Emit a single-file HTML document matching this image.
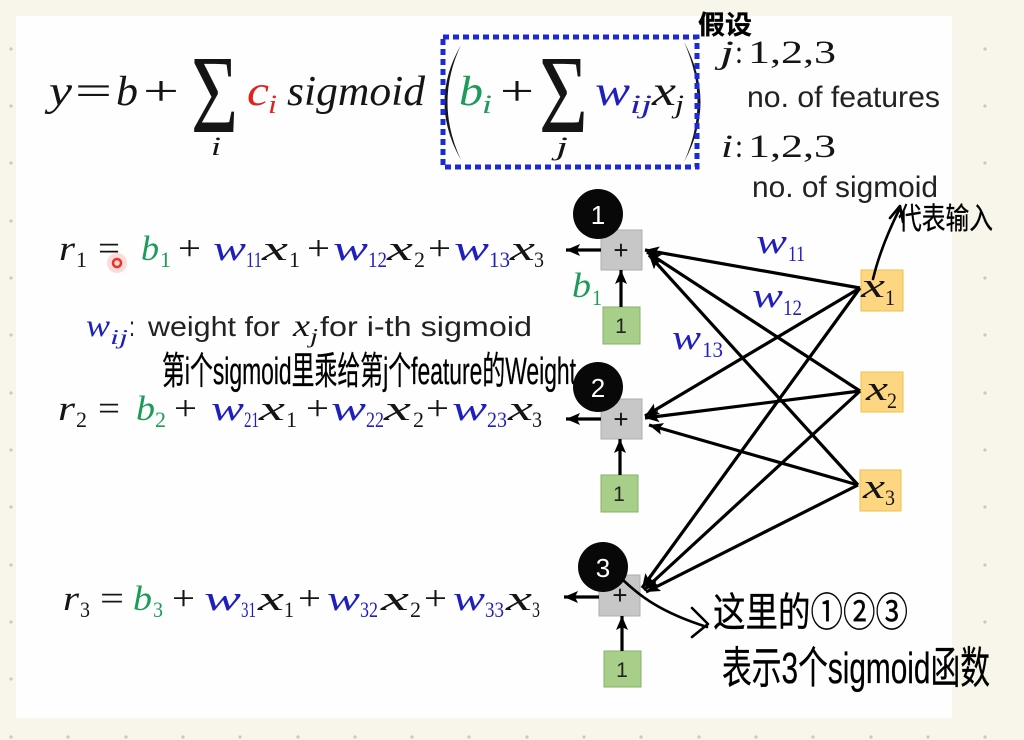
<!DOCTYPE html>
<html><head><meta charset="utf-8"><style>
html,body{margin:0;padding:0;background:#f8f6eb;}
svg{display:block;}
.m{font-family:"Liberation Serif",serif;font-style:italic;fill:#151515;}
.u{font-family:"Liberation Serif",serif;fill:#151515;}
.s{font-family:"Liberation Sans",sans-serif;fill:#222;}
.h{font-family:"Liberation Sans","Noto Sans CJK SC",sans-serif;fill:#000;stroke:#000;stroke-width:0.3;}
.g{fill:#1c9c58;}
.b{fill:#1f1fbd;}
.r{fill:#e3221c;}
</style></head><body>
<svg width="1024" height="740" viewBox="0 0 1024 740" xmlns="http://www.w3.org/2000/svg">
<defs>
<marker id="ah" markerUnits="userSpaceOnUse" markerWidth="16" markerHeight="14" refX="14" refY="6" orient="auto">
<path d="M0,0 L14,6 L0,12 L3,6 z" fill="#000"/>
</marker>
</defs>
<rect x="0" y="0" width="1024" height="740" fill="#f8f6eb"/>
<g fill="#cbc9bf">
<circle cx="11" cy="49" r="1.6"/><circle cx="11" cy="106" r="1.6"/><circle cx="11" cy="163" r="1.6"/><circle cx="11" cy="221" r="1.6"/><circle cx="11" cy="278" r="1.6"/><circle cx="11" cy="335" r="1.6"/><circle cx="11" cy="393" r="1.6"/><circle cx="11" cy="450" r="1.6"/><circle cx="11" cy="507" r="1.6"/><circle cx="11" cy="565" r="1.6"/><circle cx="11" cy="622" r="1.6"/><circle cx="11" cy="679" r="1.6"/><circle cx="11" cy="737" r="1.6"/>
<circle cx="985" cy="49" r="1.6"/><circle cx="985" cy="106" r="1.6"/><circle cx="985" cy="163" r="1.6"/><circle cx="985" cy="221" r="1.6"/><circle cx="985" cy="278" r="1.6"/><circle cx="985" cy="335" r="1.6"/><circle cx="985" cy="393" r="1.6"/><circle cx="985" cy="450" r="1.6"/><circle cx="985" cy="507" r="1.6"/><circle cx="985" cy="565" r="1.6"/><circle cx="985" cy="622" r="1.6"/><circle cx="985" cy="679" r="1.6"/><circle cx="985" cy="737" r="1.6"/>
<circle cx="68" cy="737" r="1.6"/><circle cx="126" cy="737" r="1.6"/><circle cx="183" cy="737" r="1.6"/><circle cx="240" cy="737" r="1.6"/><circle cx="298" cy="737" r="1.6"/><circle cx="355" cy="737" r="1.6"/><circle cx="412" cy="737" r="1.6"/><circle cx="469" cy="737" r="1.6"/><circle cx="527" cy="737" r="1.6"/><circle cx="584" cy="737" r="1.6"/><circle cx="641" cy="737" r="1.6"/><circle cx="699" cy="737" r="1.6"/><circle cx="756" cy="737" r="1.6"/><circle cx="813" cy="737" r="1.6"/><circle cx="871" cy="737" r="1.6"/><circle cx="928" cy="737" r="1.6"/>
</g>
<rect x="16" y="16" width="936" height="702" fill="#fefefe"/>

<!-- Main formula -->
<g font-size="42">
<text class="m" x="49" y="105" textLength="23" lengthAdjust="spacingAndGlyphs">y</text>
<text class="u" x="75" y="105" textLength="37" lengthAdjust="spacingAndGlyphs">=</text>
<text class="m" x="116" y="105" textLength="22" lengthAdjust="spacingAndGlyphs">b</text>
<text class="u" x="143" y="105" textLength="36" lengthAdjust="spacingAndGlyphs">+</text>
<text class="u" font-size="60" transform="translate(191,132) scale(1.35,1.86)">Σ</text>
<text class="m" x="211" y="155" font-size="26" textLength="10" lengthAdjust="spacingAndGlyphs">i</text>
<text class="m r" x="247" y="105" textLength="22" lengthAdjust="spacingAndGlyphs">c</text>
<text class="m r" x="268" y="113" font-size="26" textLength="9" lengthAdjust="spacingAndGlyphs">i</text>
<text class="m" x="287" y="105" textLength="138" lengthAdjust="spacingAndGlyphs">sigmoid</text>
<path d="M461,45 Q428,102 461,160 Q434,102 461,45 Z" fill="#151515"/>
<text class="m g" x="459" y="105" textLength="24" lengthAdjust="spacingAndGlyphs">b</text>
<text class="m g" x="482" y="113" font-size="26" textLength="10" lengthAdjust="spacingAndGlyphs">i</text>
<text class="u" x="500" y="105" textLength="34" lengthAdjust="spacingAndGlyphs">+</text>
<text class="u" font-size="60" transform="translate(539,132) scale(1.4,1.86)">Σ</text>
<text class="m" x="556" y="155" font-size="26" textLength="12" lengthAdjust="spacingAndGlyphs">j</text>
<text class="m b" x="595" y="105" textLength="35" lengthAdjust="spacingAndGlyphs">w</text>
<text class="m b" x="630" y="113" font-size="26" textLength="22" lengthAdjust="spacingAndGlyphs">ij</text>
<text class="m" x="652" y="105" textLength="24" lengthAdjust="spacingAndGlyphs">x</text>
<text class="m" x="675" y="113" font-size="26" textLength="9" lengthAdjust="spacingAndGlyphs">j</text>
<path d="M684,42 Q717,102 684,162 Q711,102 684,42 Z" fill="#151515"/>
</g>
<rect x="443" y="37" width="254" height="130" fill="none" stroke="#1a2ad8" stroke-width="5" stroke-dasharray="6 4"/>

<!-- right labels -->
<g font-size="33">
<text class="m" x="720" y="63" textLength="14" lengthAdjust="spacingAndGlyphs">j</text>
<text class="u" x="735" y="63" textLength="8" lengthAdjust="spacingAndGlyphs">:</text>
<text class="u" x="748" y="63" textLength="88" lengthAdjust="spacingAndGlyphs">1,2,3</text>
<text class="m" x="721" y="157" textLength="12" lengthAdjust="spacingAndGlyphs">i</text>
<text class="u" x="735" y="157" textLength="8" lengthAdjust="spacingAndGlyphs">:</text>
<text class="u" x="748" y="157" textLength="88" lengthAdjust="spacingAndGlyphs">1,2,3</text>
</g>
<g font-size="30">
<text class="s" x="747" y="107" textLength="193" lengthAdjust="spacingAndGlyphs">no. of features</text>
<text class="s" x="752" y="197" textLength="186" lengthAdjust="spacingAndGlyphs">no. of sigmoid</text>
</g>

<!-- r1 -->
<g font-size="35">
<text class="m" x="59" y="260" textLength="16" lengthAdjust="spacingAndGlyphs">r</text>
<text class="u" x="76" y="267" font-size="22" textLength="11" lengthAdjust="spacingAndGlyphs">1</text>
<text class="u" x="98" y="260" textLength="22" lengthAdjust="spacingAndGlyphs">=</text>
<text class="m g" x="141" y="260" textLength="18" lengthAdjust="spacingAndGlyphs">b</text>
<text class="u g" x="160" y="267" font-size="22" textLength="11" lengthAdjust="spacingAndGlyphs">1</text>
<text class="u" x="178" y="260" textLength="23" lengthAdjust="spacingAndGlyphs">+</text>
<text class="m b" x="213" y="260" textLength="33" lengthAdjust="spacingAndGlyphs">w</text>
<text class="u b" x="246" y="267" font-size="22" textLength="16" lengthAdjust="spacingAndGlyphs">11</text>
<text class="m" x="262" y="260" textLength="26" lengthAdjust="spacingAndGlyphs">x</text>
<text class="u" x="289" y="267" font-size="22" textLength="11" lengthAdjust="spacingAndGlyphs">1</text>
<text class="u" x="307" y="260" textLength="23" lengthAdjust="spacingAndGlyphs">+</text>
<text class="m b" x="333" y="260" textLength="35" lengthAdjust="spacingAndGlyphs">w</text>
<text class="u b" x="368" y="267" font-size="22" textLength="19" lengthAdjust="spacingAndGlyphs">12</text>
<text class="m" x="387" y="260" textLength="26" lengthAdjust="spacingAndGlyphs">x</text>
<text class="u" x="414" y="267" font-size="22" textLength="11" lengthAdjust="spacingAndGlyphs">2</text>
<text class="u" x="428" y="260" textLength="23" lengthAdjust="spacingAndGlyphs">+</text>
<text class="m b" x="454" y="260" textLength="35" lengthAdjust="spacingAndGlyphs">w</text>
<text class="u b" x="489" y="267" font-size="22" textLength="21" lengthAdjust="spacingAndGlyphs">13</text>
<text class="m" x="510" y="260" textLength="25" lengthAdjust="spacingAndGlyphs">x</text>
<text class="u" x="534" y="267" font-size="22" textLength="10" lengthAdjust="spacingAndGlyphs">3</text>
</g>
<circle cx="117" cy="263" r="10" fill="#ff8a80" opacity="0.3"/>
<circle cx="117" cy="263" r="4" fill="none" stroke="#e8322a" stroke-width="2.5"/>

<!-- w_ij line -->
<text class="m b" x="86" y="336" font-size="32" textLength="24" lengthAdjust="spacingAndGlyphs">w</text>
<text class="m b" x="110" y="344" font-size="21" textLength="18" lengthAdjust="spacingAndGlyphs">ij</text>
<text class="s" x="129" y="336" font-size="28" textLength="6" lengthAdjust="spacingAndGlyphs">:</text>
<text class="s" x="148" y="336" font-size="28" textLength="132" lengthAdjust="spacingAndGlyphs">weight for</text>
<text class="m" x="293" y="336" font-size="32" textLength="17" lengthAdjust="spacingAndGlyphs">x</text>
<text class="m" x="310" y="343" font-size="21" textLength="8" lengthAdjust="spacingAndGlyphs">j</text>
<text class="s" x="320" y="336" font-size="28" textLength="212" lengthAdjust="spacingAndGlyphs">for i-th sigmoid</text>
<text class="h" x="162" y="384" font-size="38" textLength="414" lengthAdjust="spacingAndGlyphs">第i个sigmoid里乘给第j个feature的Weight</text>

<!-- r2 -->
<g font-size="35">
<text class="m" x="58" y="420" textLength="17" lengthAdjust="spacingAndGlyphs">r</text>
<text class="u" x="76" y="427" font-size="22" textLength="11" lengthAdjust="spacingAndGlyphs">2</text>
<text class="u" x="98" y="420" textLength="22" lengthAdjust="spacingAndGlyphs">=</text>
<text class="m g" x="136" y="420" textLength="19" lengthAdjust="spacingAndGlyphs">b</text>
<text class="u g" x="155" y="427" font-size="22" textLength="11" lengthAdjust="spacingAndGlyphs">2</text>
<text class="u" x="174" y="420" textLength="23" lengthAdjust="spacingAndGlyphs">+</text>
<text class="m b" x="211" y="420" textLength="33" lengthAdjust="spacingAndGlyphs">w</text>
<text class="u b" x="244" y="427" font-size="22" textLength="15" lengthAdjust="spacingAndGlyphs">21</text>
<text class="m" x="259" y="420" textLength="26" lengthAdjust="spacingAndGlyphs">x</text>
<text class="u" x="286" y="427" font-size="22" textLength="11" lengthAdjust="spacingAndGlyphs">1</text>
<text class="u" x="306" y="420" textLength="23" lengthAdjust="spacingAndGlyphs">+</text>
<text class="m b" x="331" y="420" textLength="35" lengthAdjust="spacingAndGlyphs">w</text>
<text class="u b" x="366" y="427" font-size="22" textLength="18" lengthAdjust="spacingAndGlyphs">22</text>
<text class="m" x="384" y="420" textLength="27" lengthAdjust="spacingAndGlyphs">x</text>
<text class="u" x="413" y="427" font-size="22" textLength="11" lengthAdjust="spacingAndGlyphs">2</text>
<text class="u" x="426" y="420" textLength="23" lengthAdjust="spacingAndGlyphs">+</text>
<text class="m b" x="452" y="420" textLength="35" lengthAdjust="spacingAndGlyphs">w</text>
<text class="u b" x="487" y="427" font-size="22" textLength="20" lengthAdjust="spacingAndGlyphs">23</text>
<text class="m" x="508" y="420" textLength="25" lengthAdjust="spacingAndGlyphs">x</text>
<text class="u" x="532" y="427" font-size="22" textLength="10" lengthAdjust="spacingAndGlyphs">3</text>
</g>

<!-- r3 -->
<g font-size="35">
<text class="m" x="63" y="610" textLength="16" lengthAdjust="spacingAndGlyphs">r</text>
<text class="u" x="80" y="617" font-size="22" textLength="10" lengthAdjust="spacingAndGlyphs">3</text>
<text class="u" x="100" y="610" textLength="24" lengthAdjust="spacingAndGlyphs">=</text>
<text class="m g" x="133" y="610" textLength="19" lengthAdjust="spacingAndGlyphs">b</text>
<text class="u g" x="153" y="617" font-size="22" textLength="10" lengthAdjust="spacingAndGlyphs">3</text>
<text class="u" x="172" y="610" textLength="23" lengthAdjust="spacingAndGlyphs">+</text>
<text class="m b" x="204" y="610" textLength="37" lengthAdjust="spacingAndGlyphs">w</text>
<text class="u b" x="241" y="617" font-size="22" textLength="15" lengthAdjust="spacingAndGlyphs">31</text>
<text class="m" x="258" y="610" textLength="26" lengthAdjust="spacingAndGlyphs">x</text>
<text class="u" x="284" y="617" font-size="22" textLength="10" lengthAdjust="spacingAndGlyphs">1</text>
<text class="u" x="298" y="610" textLength="23" lengthAdjust="spacingAndGlyphs">+</text>
<text class="m b" x="327" y="610" textLength="33" lengthAdjust="spacingAndGlyphs">w</text>
<text class="u b" x="360" y="617" font-size="22" textLength="18" lengthAdjust="spacingAndGlyphs">32</text>
<text class="m" x="381" y="610" textLength="28" lengthAdjust="spacingAndGlyphs">x</text>
<text class="u" x="410" y="617" font-size="22" textLength="11" lengthAdjust="spacingAndGlyphs">2</text>
<text class="u" x="424" y="610" textLength="23" lengthAdjust="spacingAndGlyphs">+</text>
<text class="m b" x="453" y="610" textLength="32" lengthAdjust="spacingAndGlyphs">w</text>
<text class="u b" x="485" y="617" font-size="22" textLength="19" lengthAdjust="spacingAndGlyphs">33</text>
<text class="m" x="506" y="610" textLength="26" lengthAdjust="spacingAndGlyphs">x</text>
<text class="u" x="532" y="617" font-size="22" textLength="8" lengthAdjust="spacingAndGlyphs">3</text>
</g>

<!-- boxes -->
<g stroke="#adadad" stroke-width="1" fill="#c7c7c7">
<rect x="601" y="230" width="41" height="40"/>
<rect x="601" y="399" width="41" height="40"/>
<rect x="599" y="575" width="41" height="41"/>
</g>
<g class="s" font-size="26" text-anchor="middle" style="fill:#111">
<text x="621" y="259">+</text>
<text x="621" y="428">+</text>
<text x="620" y="604">+</text>
</g>
<g stroke="#86b066" stroke-width="1" fill="#a8cf8a">
<rect x="603" y="307" width="37" height="37"/>
<rect x="601" y="475" width="37" height="37"/>
<rect x="604" y="651" width="37" height="36"/>
</g>
<g class="s" font-size="21" text-anchor="middle" style="fill:#222">
<text x="621" y="333">1</text>
<text x="619" y="501">1</text>
<text x="622" y="677">1</text>
</g>
<g stroke="#f0bd4c" stroke-width="1" fill="#fdd681">
<rect x="861" y="270" width="42" height="41"/>
<rect x="861" y="372" width="42" height="40"/>
<rect x="860" y="470" width="41" height="41"/>
</g>
<text class="m" x="861" y="297" font-size="35" textLength="24" lengthAdjust="spacingAndGlyphs">x</text>
<text class="u" x="885" y="305" font-size="22" textLength="10" lengthAdjust="spacingAndGlyphs">1</text>
<text class="m" x="866" y="400" font-size="35" textLength="22" lengthAdjust="spacingAndGlyphs">x</text>
<text class="u" x="887" y="408" font-size="22" textLength="10" lengthAdjust="spacingAndGlyphs">2</text>
<text class="m" x="863" y="498" font-size="35" textLength="22" lengthAdjust="spacingAndGlyphs">x</text>
<text class="u" x="885" y="505" font-size="22" textLength="10" lengthAdjust="spacingAndGlyphs">3</text>

<!-- connections -->
<g stroke="#000" stroke-width="3.2" fill="none" marker-end="url(#ah)">
<line x1="860" y1="288" x2="645" y2="250"/>
<line x1="860" y1="391" x2="647" y2="252"/>
<line x1="858" y1="485" x2="649" y2="255"/>
<line x1="860" y1="288" x2="645" y2="416"/>
<line x1="860" y1="391" x2="645" y2="418"/>
<line x1="858" y1="485" x2="649" y2="425"/>
<line x1="860" y1="288" x2="642" y2="588"/>
<line x1="860" y1="391" x2="644" y2="590"/>
<line x1="858" y1="485" x2="646" y2="592"/>
<line x1="601" y1="250" x2="566" y2="250"/>
<line x1="601" y1="419" x2="566" y2="419"/>
<line x1="599" y1="597" x2="564" y2="597"/>
<line x1="621" y1="307" x2="621" y2="270"/>
<line x1="620" y1="475" x2="620" y2="439"/>
<line x1="622" y1="651" x2="622" y2="616"/>
</g>

<!-- circles -->
<g fill="#080808">
<circle cx="598" cy="214" r="25"/>
<circle cx="598" cy="387" r="25"/>
<circle cx="603" cy="567" r="25"/>
</g>
<g class="s" font-size="26" text-anchor="middle" style="fill:#fff">
<text x="598" y="224">1</text>
<text x="598" y="397">2</text>
<text x="603" y="577">3</text>
</g>

<!-- w labels -->
<text class="m b" x="756" y="253" font-size="35" textLength="31" lengthAdjust="spacingAndGlyphs">w</text>
<text class="u b" x="788" y="261" font-size="22" textLength="17" lengthAdjust="spacingAndGlyphs">11</text>
<text class="m b" x="752" y="307" font-size="35" textLength="31" lengthAdjust="spacingAndGlyphs">w</text>
<text class="u b" x="783" y="315" font-size="22" textLength="19" lengthAdjust="spacingAndGlyphs">12</text>
<text class="m b" x="672" y="349" font-size="35" textLength="29" lengthAdjust="spacingAndGlyphs">w</text>
<text class="u b" x="702" y="357" font-size="22" textLength="21" lengthAdjust="spacingAndGlyphs">13</text>
<text class="m g" x="572" y="297" font-size="35" textLength="19" lengthAdjust="spacingAndGlyphs">b</text>
<text class="u g" x="592" y="305" font-size="22" textLength="10" lengthAdjust="spacingAndGlyphs">1</text>

<!-- handwriting -->
<text class="h" x="698" y="34" font-size="26" font-weight="700" textLength="54" lengthAdjust="spacingAndGlyphs">假设</text>
<text class="h" x="898" y="229" font-size="30" textLength="95" lengthAdjust="spacingAndGlyphs">代表输入</text>
<g stroke="#000" stroke-width="2.6" fill="none" stroke-linecap="round" stroke-linejoin="round">
<path d="M873,279 C878,258 888,232 900,208"/>
<path d="M890,218 L900,206 L903,222"/>
<path d="M623,580 C640,596 660,612 707,627"/>
<path d="M692,608 L708,624 L692,637"/>
</g>
<text class="h" x="713" y="626" font-size="40" textLength="195" lengthAdjust="spacingAndGlyphs">这里的①②③</text>
<text class="h" x="722" y="683" font-size="44" textLength="268" lengthAdjust="spacingAndGlyphs">表示3个sigmoid函数</text>
</svg>
</body></html>
